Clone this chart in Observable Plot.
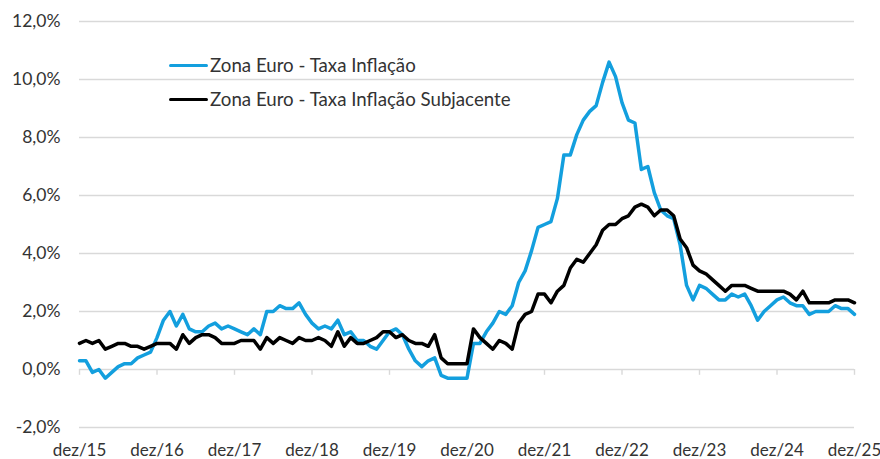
<!DOCTYPE html>
<html>
<head>
<meta charset="utf-8">
<script src="https://cdn.jsdelivr.net/npm/d3@7"></script>
<script src="https://cdn.jsdelivr.net/npm/@observablehq/plot@0.6"></script>
<style>
  html, body { margin: 0; padding: 0; background: #fff; }
  #wrap { position: relative; width: 880px; height: 459px; font-family: Lato, "Open Sans", sans-serif; }
  #legend { position: absolute; left: 169px; top: 48px; color: #333; font-size: 18.7px; line-height: 34px; }
  .item { display: flex; align-items: center; height: 34px; }
  .sw { width: 39px; height: 0; border-top: 3.5px solid; margin-right: 2px; border-radius: 2px; }
</style>
</head>
<body>
<div id="wrap"><div id="legend"></div></div>
<script>
// Monthly data, Dec 2015 .. Dec 2025 (121 months)
const seriesNames = ["Zona Euro - Taxa Inflação", "Zona Euro - Taxa Inflação Subjacente"];
const seriesColors = ["#139fde", "#000000"];

const inflacao = [
  0.3,
  0.3, -0.1, 0.0, -0.3, -0.1, 0.1, 0.2, 0.2, 0.4, 0.5, 0.6, 1.1,
  1.7, 2.0, 1.5, 1.9, 1.4, 1.3, 1.3, 1.5, 1.6, 1.4, 1.5, 1.4,
  1.3, 1.2, 1.4, 1.2, 2.0, 2.0, 2.2, 2.1, 2.1, 2.3, 1.9, 1.6,
  1.4, 1.5, 1.4, 1.7, 1.2, 1.3, 1.0, 1.0, 0.8, 0.7, 1.0, 1.3,
  1.4, 1.2, 0.7, 0.3, 0.1, 0.3, 0.4, -0.2, -0.3, -0.3, -0.3, -0.3,
  0.9, 0.9, 1.3, 1.6, 2.0, 1.9, 2.2, 3.0, 3.4, 4.1, 4.9, 5.0,
  5.1, 5.9, 7.4, 7.4, 8.1, 8.6, 8.9, 9.1, 9.9, 10.6, 10.1, 9.2,
  8.6, 8.5, 6.9, 7.0, 6.1, 5.5, 5.3, 5.2, 4.3, 2.9, 2.4, 2.9,
  2.8, 2.6, 2.4, 2.4, 2.6, 2.5, 2.6, 2.2, 1.7, 2.0, 2.2, 2.4,
  2.5, 2.3, 2.2, 2.2, 1.9, 2.0, 2.0, 2.0, 2.2, 2.1, 2.1, 1.9
];

const subjacente = [
  0.9,
  1.0, 0.9, 1.0, 0.7, 0.8, 0.9, 0.9, 0.8, 0.8, 0.7, 0.8, 0.9,
  0.9, 0.9, 0.7, 1.2, 0.9, 1.1, 1.2, 1.2, 1.1, 0.9, 0.9, 0.9,
  1.0, 1.0, 1.0, 0.7, 1.1, 0.9, 1.1, 1.0, 0.9, 1.1, 1.0, 1.0,
  1.1, 1.0, 0.8, 1.3, 0.8, 1.1, 0.9, 0.9, 1.0, 1.1, 1.3, 1.3,
  1.1, 1.2, 1.0, 0.9, 0.9, 0.8, 1.2, 0.4, 0.2, 0.2, 0.2, 0.2,
  1.4, 1.1, 0.9, 0.7, 1.0, 0.9, 0.7, 1.6, 1.9, 2.0, 2.6, 2.6,
  2.3, 2.7, 2.9, 3.5, 3.8, 3.7, 4.0, 4.3, 4.8, 5.0, 5.0, 5.2,
  5.3, 5.6, 5.7, 5.6, 5.3, 5.5, 5.5, 5.3, 4.5, 4.2, 3.6, 3.4,
  3.3, 3.1, 2.9, 2.7, 2.9, 2.9, 2.9, 2.8, 2.7, 2.7, 2.7, 2.7,
  2.7, 2.6, 2.4, 2.7, 2.3, 2.3, 2.3, 2.3, 2.4, 2.4, 2.4, 2.3
];

const xTickLabels = ["dez/15","dez/16","dez/17","dez/18","dez/19","dez/20","dez/21","dez/22","dez/23","dez/24","dez/25"];
const yTicks = [-2, 0, 2, 4, 6, 8, 10, 12];
const yTickLabels = ["-2,0%","0,0%","2,0%","4,0%","6,0%","8,0%","10,0%","12,0%"];

// month index 0 = dez/15; December ticks every 12 months
const xTicks = xTickLabels.map((_, i) => i * 12);
const rows1 = inflacao.map((v, i) => ({m: i, v}));
const rows2 = subjacente.map((v, i) => ({m: i, v}));

const chart = Plot.plot({
  width: 880,
  height: 459,
  marginLeft: 79,
  marginRight: 26,
  marginTop: 21,
  marginBottom: 32,
  style: {fontFamily: "Lato, 'Open Sans', sans-serif", fontSize: "17.5px", color: "#333", background: "#fff", overflow: "visible"},
  x: {domain: [0, 120], label: null},
  y: {domain: [-2, 12], label: null},
  marks: [
    Plot.ruleY(yTicks, {stroke: "#d9d9d9", strokeWidth: 1.4}),
    Plot.ruleX(xTicks, {y1: 0, y2: -0.2, stroke: "#d9d9d9", strokeWidth: 1.4}),
    Plot.axisY({ticks: yTicks, label: null, tickSize: 0, tickPadding: 19, tickFormat: (d) => yTickLabels[yTicks.indexOf(d)], fill: "#333"}),
    Plot.axisX({ticks: xTicks, label: null, tickSize: 0, tickPadding: 16, fontSize: 17, tickFormat: (d) => xTickLabels[xTicks.indexOf(d)], fill: "#333"}),
    Plot.line(rows1, {x: "m", y: "v", stroke: seriesColors[0], strokeWidth: 3.5, strokeLinejoin: "round"}),
    Plot.line(rows2, {x: "m", y: "v", stroke: seriesColors[1], strokeWidth: 3.5, strokeLinejoin: "round"})
  ]
});
document.getElementById("wrap").prepend(chart);

const legend = document.getElementById("legend");
seriesNames.forEach((name, i) => {
  const item = document.createElement("div");
  item.className = "item";
  const sw = document.createElement("span");
  sw.className = "sw";
  sw.style.borderTopColor = seriesColors[i];
  const t = document.createElement("span");
  t.textContent = name;
  item.append(sw, t);
  legend.append(item);
});
</script>
</body>
</html>
